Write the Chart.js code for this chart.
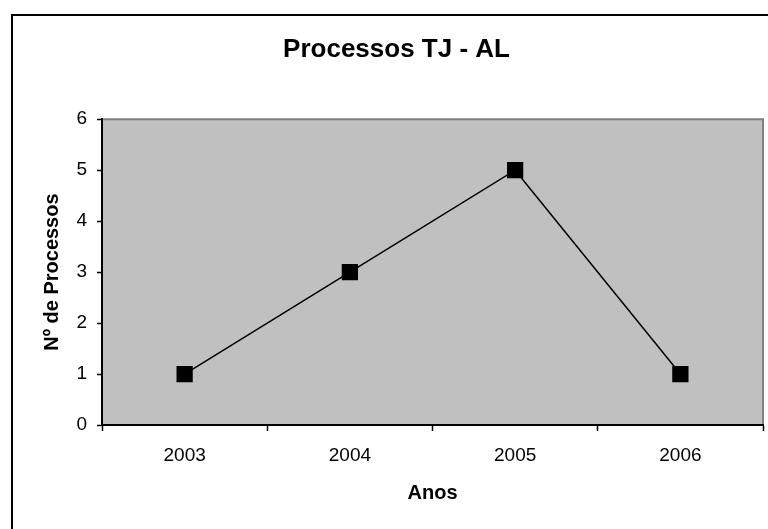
<!DOCTYPE html>
<html lang="en">
<head>
    <meta charset="UTF-8">
    <title>Processos TJ - AL</title>
    <script src="https://cdn.jsdelivr.net/npm/chart.js"></script>
    <style>
        html, body { margin: 0; padding: 0; background: #fff; }
        #wrap { width: 768px; height: 529px; }
    </style>
</head>
<body>
    <div id="wrap">
        <canvas id="tjChart" width="768" height="529"></canvas>
    </div>
    <script>
        // Data
        const anos = ['2003', '2004', '2005', '2006'];
        const processos = [1, 3, 5, 1];
        const yTicks = [0, 1, 2, 3, 4, 5, 6];

        const fontFamily = "'Liberation Sans', Arial, sans-serif";

        // Gray plot background and the outer frame (Excel look)
        const excelFrame = {
            id: 'excelFrame',
            beforeDraw(chart) {
                const ctx = chart.ctx;
                const a = chart.chartArea;
                ctx.save();
                // outer frame, only left and top are inside the picture
                ctx.strokeStyle = '#000';
                ctx.lineWidth = 2;
                ctx.beginPath();
                ctx.moveTo(12, chart.height + 2);
                ctx.lineTo(12, 15);
                ctx.lineTo(chart.width + 2, 15);
                ctx.stroke();
                // plot area
                ctx.fillStyle = '#c0c0c0';
                ctx.fillRect(a.left, a.top, a.right - a.left, a.bottom - a.top);
                ctx.strokeStyle = '#808080';
                ctx.lineWidth = 2;
                ctx.beginPath();
                ctx.moveTo(a.left, a.top);
                ctx.lineTo(a.right, a.top);
                ctx.lineTo(a.right, a.bottom);
                ctx.stroke();
                ctx.restore();
            }
        };

        const ctx = document.getElementById('tjChart').getContext('2d');
        const tjChart = new Chart(ctx, {
            type: 'line',
            data: {
                labels: anos,
                datasets: [{
                    label: 'Processos',
                    data: processos,
                    borderColor: '#000',
                    borderWidth: 1.5,
                    tension: 0,
                    pointStyle: 'rect',
                    pointRadius: 11.5,
                    pointHoverRadius: 11.5,
                    pointBackgroundColor: '#000',
                    pointBorderColor: '#000',
                    pointBorderWidth: 0
                }]
            },
            options: {
                responsive: false,
                animation: false,
                layout: {
                    autoPadding: false,
                    padding: { left: 30, right: 5, top: 0, bottom: 0 }
                },
                plugins: {
                    legend: { display: false },
                    tooltip: { enabled: false },
                    title: {
                        display: true,
                        text: 'Processos TJ - AL',
                        color: '#000',
                        font: { family: fontFamily, size: 26, weight: 'bold' },
                        padding: { top: 34, bottom: 54 }
                    }
                },
                scales: {
                    x: {
                        type: 'category',
                        offset: true,
                        afterFit(scale) { scale.height = 104; },
                        border: { color: '#000', width: 2 },
                        grid: {
                            offset: true,
                            drawOnChartArea: false,
                            drawTicks: true,
                            tickLength: 6,
                            tickColor: '#000',
                            tickWidth: 1.5
                        },
                        ticks: {
                            color: '#000',
                            padding: 13,
                            font: { family: fontFamily, size: 19 }
                        },
                        title: {
                            display: true,
                            text: 'Anos',
                            color: '#000',
                            font: { family: fontFamily, size: 20, weight: 'bold' },
                            padding: { top: 24, bottom: 24 }
                        }
                    },
                    y: {
                        min: 0,
                        max: 6,
                        afterFit(scale) { scale.width = 72; },
                        afterBuildTicks(scale) {
                            scale.ticks = yTicks.map(v => ({ value: v }));
                        },
                        border: { color: '#000', width: 2 },
                        grid: {
                            drawOnChartArea: false,
                            drawTicks: true,
                            tickLength: 5,
                            tickColor: '#000',
                            tickWidth: 1.5
                        },
                        ticks: {
                            color: '#000',
                            padding: 10,
                            font: { family: fontFamily, size: 19 }
                        },
                        title: {
                            display: true,
                            text: 'Nº de Processos',
                            color: '#000',
                            font: { family: fontFamily, size: 20, weight: 'bold' },
                            padding: { top: 10, bottom: 10 }
                        }
                    }
                }
            },
            plugins: [excelFrame]
        });
    </script>
</body>
</html>
